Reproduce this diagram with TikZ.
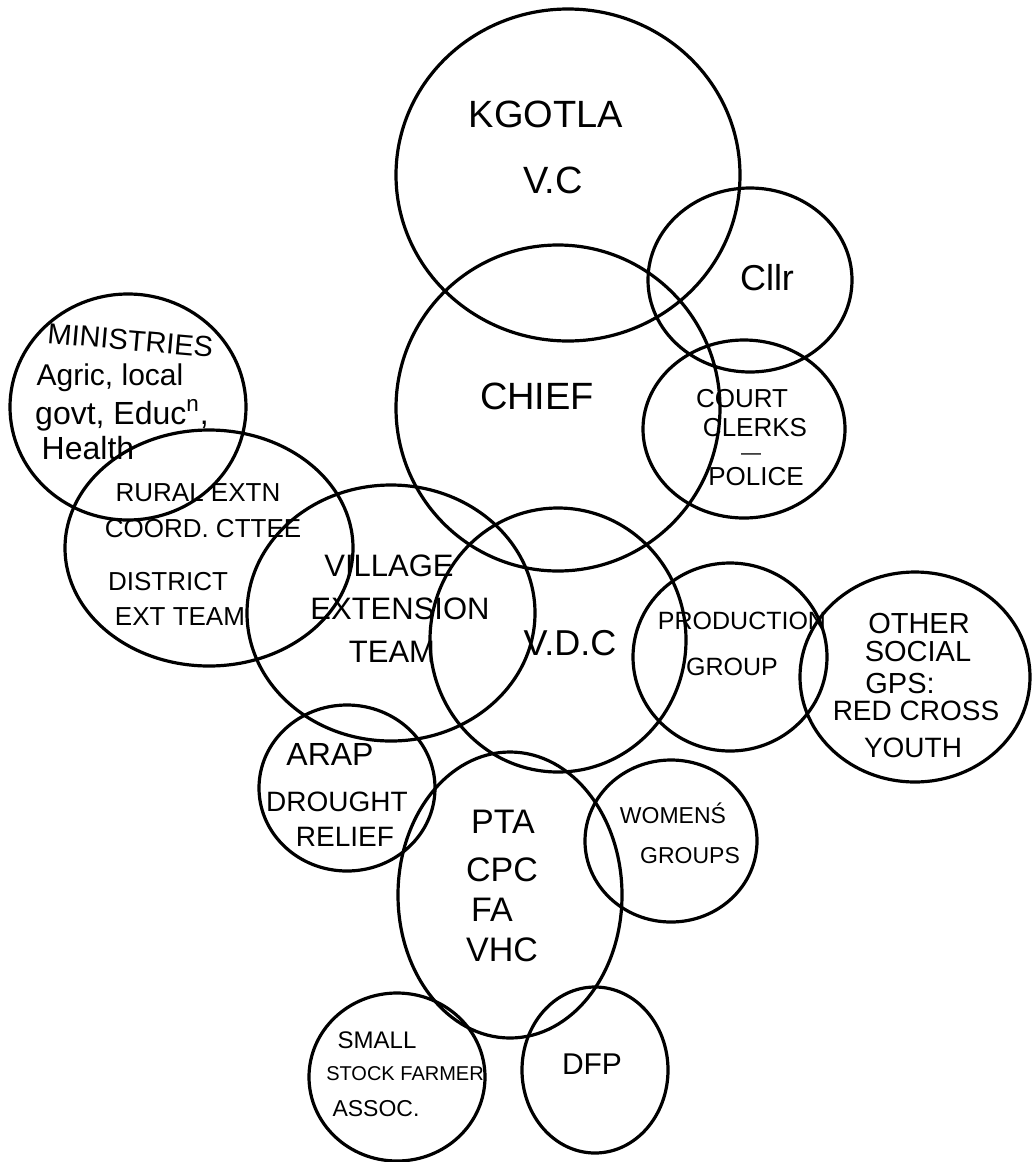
\documentclass[tikz,border=0pt]{standalone}
\usepackage{fontspec}
\setmainfont{Liberation Sans}

\begin{document}
\begin{tikzpicture}[x=0.5pt,y=-0.5pt,line width=1.6pt,line cap=round,
    lab/.style={font=\fontsize{#1}{#1}\selectfont,inner sep=0pt,anchor=mid,yshift=-1.5pt}]
    \useasboundingbox (0,0) rectangle (1035,1162);
    % rings: centre x / centre y / x radius / y radius
    \foreach \cx/\cy/\rx/\ry in {568/175/172/166, 750/280/102/92, 558/408/162/163,
        744/429/101/89, 128/407/118/113, 209/548/144/118, 391/613/144/128,
        558/640/128/132, 730/657/97/94, 915/677/115/105, 347/788/88/83,
        510/895/112/143, 671/841/86/81, 397/1077/88/84, 595/1070/73/83}{
        \draw (\cx,\cy) circle[x radius=\rx, y radius=\ry];
    }
    % top
    \node[lab=19pt] (kgotla) at (546,119) {KGOTLA};
    \node[lab=19pt] (vc) at (553,185) {V.C};
    \node[lab=18pt] (cllr) at (767,282) {Cllr};
    \node[lab=19pt] (chief) at (537,401) {CHIEF};
    \node[lab=13pt] (court) at (742,399) {COURT};
    \node[lab=13pt] (clerks) at (755,428) {CLERKS};
    \node[lab=10pt] (dash) at (751,451) {---};
    \node[lab=13pt] (police) at (756,477) {POLICE};
    % left
    \node[lab=14.5pt,rotate=-5] (ministries) at (130,342) {MINISTRIES};
    \node[lab=15pt] (agric) at (110,377) {Agric, local};
    \node[lab=16pt] (govt) at (122,416) {govt, Educ\textsuperscript{n},};
    \node[lab=16pt] (health) at (88,451) {Health};
    \node[lab=13pt] (rural) at (198,493) {RURAL EXTN};
    \node[lab=13pt] (coord) at (203,529) {COORD. CTTEE};
    \node[lab=13pt] (district) at (168,582) {DISTRICT};
    \node[lab=13pt] (extteam) at (180,617) {EXT TEAM};
    \node[lab=15.5pt] (village) at (389,568) {VILLAGE};
    \node[lab=15.5pt] (extension) at (400,611) {EXTENSION};
    \node[lab=15.5pt] (team) at (392,654) {TEAM};
    % middle
    \node[lab=18pt] (vdc) at (570,647) {V.D.C};
    \node[lab=12.5pt] (production) at (742,621) {PRODUCTION};
    \node[lab=12.5pt] (group) at (732,667) {GROUP};
    \node[lab=14.5pt] (other) at (919,625) {OTHER};
    \node[lab=14.5pt] (social) at (918,653) {SOCIAL};
    \node[lab=14.5pt] (gps) at (900,685) {GPS:};
    \node[lab=14pt] (redcross) at (916,712) {RED CROSS};
    \node[lab=14pt] (youth) at (913,749) {YOUTH};
    % bottom
    \node[lab=16pt] (arap) at (330,757) {ARAP};
    \node[lab=14pt] (drought) at (337,803) {DROUGHT};
    \node[lab=14pt] (relief) at (345,838) {RELIEF};
    \node[lab=17pt] (pta) at (503,825) {PTA};
    \node[lab=17pt] (cpc) at (502,873) {CPC};
    \node[lab=17pt] (fa) at (492,913) {FA};
    \node[lab=17pt] (vhc) at (502,953) {VHC};
    \node[lab=11.5pt] (womens) at (673,815) {WOMENŚ};
    \node[lab=11.5pt] (groups) at (690,855) {GROUPS};
    \node[lab=12pt] (small) at (377,1040) {SMALL};
    \node[lab=10pt] (stockfarmer) at (405,1072) {STOCK FARMER};
    \node[lab=11.5pt] (assoc) at (376,1108) {ASSOC.};
    \node[lab=15pt] (dfp) at (592,1066) {DFP};
\end{tikzpicture}
\end{document}
